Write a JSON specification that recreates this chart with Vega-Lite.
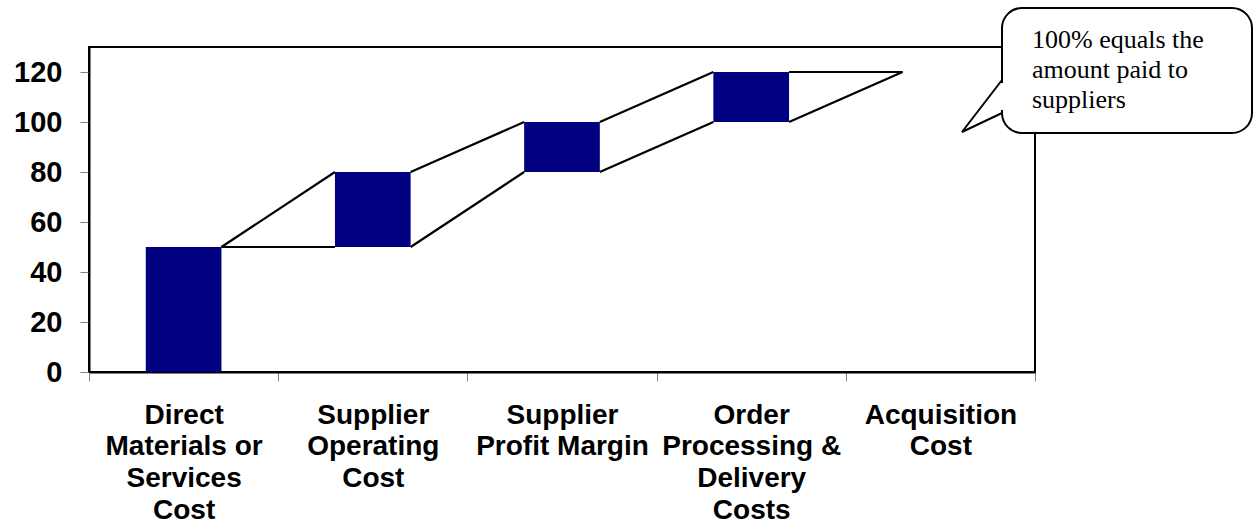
{
  "$schema": "https://vega.github.io/schema/vega-lite/v6.json",
  "width": 946,
  "height": 325,
  "autosize": {"type": "none"},
  "padding": {"left": 89, "top": 47, "right": 223, "bottom": 151},
  "background": "white",
  "config": {"view": {"stroke": "black", "strokeWidth": 2}},
  "datasets": {
    "bars": [
      {"cat": "Direct|Materials or|Services|Cost", "base": 0, "top": 50},
      {"cat": "Supplier|Operating|Cost", "base": 50, "top": 80},
      {"cat": "Supplier|Profit Margin", "base": 80, "top": 100},
      {"cat": "Order|Processing &|Delivery|Costs", "base": 100, "top": 120},
      {"cat": "Acquisition|Cost", "base": 120, "top": 120}
    ],
    "links": [
      {"from": "Direct|Materials or|Services|Cost", "to": "Supplier|Operating|Cost", "y_from": 50, "y_to": 50},
      {"from": "Direct|Materials or|Services|Cost", "to": "Supplier|Operating|Cost", "y_from": 50, "y_to": 80},
      {"from": "Supplier|Operating|Cost", "to": "Supplier|Profit Margin", "y_from": 50, "y_to": 80},
      {"from": "Supplier|Operating|Cost", "to": "Supplier|Profit Margin", "y_from": 80, "y_to": 100},
      {"from": "Supplier|Profit Margin", "to": "Order|Processing &|Delivery|Costs", "y_from": 80, "y_to": 100},
      {"from": "Supplier|Profit Margin", "to": "Order|Processing &|Delivery|Costs", "y_from": 100, "y_to": 120},
      {"from": "Order|Processing &|Delivery|Costs", "to": "Acquisition|Cost", "y_from": 100, "y_to": 120},
      {"from": "Order|Processing &|Delivery|Costs", "to": "Acquisition|Cost", "y_from": 120, "y_to": 120}
    ],
    "box": [{"x1": 4.8256, "x2": 6.147, "y1": 95.6, "y2": 145.6}],
    "gap": [{"x": 4.8256, "y1": 115.6, "y2": 104.8}],
    "tail": [
      {"ord": 1, "x": 4.8256, "y": 116.8},
      {"ord": 2, "x": 4.614, "y": 96},
      {"ord": 3, "x": 4.8256, "y": 103.6}
    ],
    "note": [{"x": 4.984, "y": 129.6, "text": "100% equals the|amount paid to|suppliers"}]
  },
  "layer": [
    {
      "layer": [
        {
          "data": {"name": "bars"},
          "mark": {"type": "bar", "color": "#000080", "width": {"band": 0.4}},
          "encoding": {
            "x": {
              "field": "cat", "type": "nominal", "title": null,
              "scale": {
                "domain": ["Direct|Materials or|Services|Cost", "Supplier|Operating|Cost", "Supplier|Profit Margin", "Order|Processing &|Delivery|Costs", "Acquisition|Cost"],
                "paddingInner": 0, "paddingOuter": 0
              },
              "axis": {
                "tickBand": "extent", "tickSize": 9, "tickColor": "#808080", "tickWidth": 1,
                "domainColor": "black", "domainWidth": 2,
                "labelFont": "Liberation Sans", "labelFontWeight": "bold", "labelFontSize": 28,
                "labelColor": "black", "labelAngle": 0, "labelBaseline": "top",
                "labelExpr": "split(datum.label, '|')", "labelLineHeight": 31.8,
                "labelPadding": 20, "labelLimit": 0, "labelOverlap": false
              }
            },
            "y": {
              "field": "base", "type": "quantitative", "title": null,
              "scale": {"domain": [0, 130], "nice": false, "zero": false},
              "axis": {
                "values": [0, 20, 40, 60, 80, 100, 120], "grid": false,
                "tickSize": 9, "tickColor": "#808080", "tickWidth": 1,
                "domainColor": "black", "domainWidth": 2,
                "labelFont": "Liberation Sans", "labelFontWeight": "bold", "labelFontSize": 29,
                "labelColor": "black", "labelPadding": 18
              }
            },
            "y2": {"field": "top"}
          }
        },
        {
          "data": {"name": "links"},
          "mark": {"type": "rule", "color": "black", "strokeWidth": 2.2},
          "encoding": {
            "x": {"field": "from", "type": "nominal", "title": null, "bandPosition": 0.7},
            "x2": {"field": "to", "bandPosition": 0.3},
            "y": {"field": "y_from", "type": "quantitative", "title": null},
            "y2": {"field": "y_to"}
          }
        }
      ]
    },
    {
      "layer": [
        {
          "data": {"name": "box"},
          "mark": {"type": "rect", "fill": "white", "stroke": "black", "strokeWidth": 2, "cornerRadius": 20},
          "encoding": {
            "x": {"field": "x1", "type": "quantitative", "axis": null, "scale": {"domain": [0, 5], "nice": false, "zero": false}},
            "x2": {"field": "x2"},
            "y": {"field": "y1", "type": "quantitative", "axis": null, "scale": {"domain": [0, 130], "nice": false, "zero": false}},
            "y2": {"field": "y2"}
          }
        },
        {
          "data": {"name": "gap"},
          "mark": {"type": "rule", "color": "white", "strokeWidth": 5},
          "encoding": {
            "x": {"field": "x", "type": "quantitative"},
            "y": {"field": "y1", "type": "quantitative"},
            "y2": {"field": "y2"}
          }
        },
        {
          "data": {"name": "tail"},
          "mark": {"type": "line", "color": "black", "strokeWidth": 2},
          "encoding": {
            "x": {"field": "x", "type": "quantitative"},
            "y": {"field": "y", "type": "quantitative"},
            "order": {"field": "ord"}
          }
        },
        {
          "data": {"name": "note"},
          "mark": {"type": "text", "font": "Liberation Serif", "fontSize": 26, "lineHeight": 30, "lineBreak": "|", "align": "left", "baseline": "alphabetic", "color": "black"},
          "encoding": {
            "x": {"field": "x", "type": "quantitative"},
            "y": {"field": "y", "type": "quantitative"},
            "text": {"field": "text"}
          }
        }
      ]
    }
  ],
  "resolve": {"scale": {"x": "independent", "y": "independent"}}
}
